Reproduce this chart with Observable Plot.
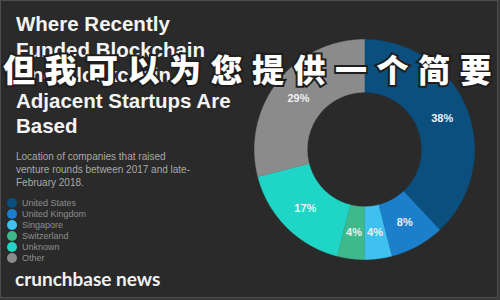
<!DOCTYPE html>
<html>
<head>
<meta charset="utf-8">
<script src="https://cdn.jsdelivr.net/npm/d3@7"></script>
<script src="https://cdn.jsdelivr.net/npm/@observablehq/plot@0.6"></script>
<style>
  html, body { margin: 0; padding: 0; background: #3a3a3a; }
  #wrap { position: relative; width: 496px; height: 296px; background: #2a2a2a; border: 1px solid #4d4d4d; overflow: hidden; font-family: "Liberation Sans", Arial, sans-serif; }
  #chart { position: absolute; left: -1px; top: -1px; width: 500px; height: 300px; }
  #chart svg { max-width: none !important; width: 500px; height: 300px; display: block; }
  #title { position: absolute; left: 15px; top: 10px; color: #f4f4f4; font-weight: 700; font-size: 20.5px; line-height: 25.5px; }
  #sub { position: absolute; left: 15px; top: 149px; color: #a9a9a9; font-size: 10px; line-height: 13px; }
  #legend { position: absolute; left: 6px; top: 196px; }
  .row { height: 11px; display: flex; align-items: center; font-size: 9px; color: #8d8d8d; }
  .sw { width: 10px; height: 10px; border-radius: 50%; margin-right: 5px; }
  #brand { position: absolute; left: 14px; top: 266px; color: #f2f2f2; font-family: Lato, sans-serif; font-weight: 700; font-size: 19px; }
  #overlay { position: absolute; left: 2px; top: 51px; white-space: nowrap; font-family: "Noto Sans CJK SC", sans-serif; font-weight: 900; font-size: 32px; line-height: 32px; letter-spacing: 9.5px; color: #fff; -webkit-text-stroke: 4px #1e1e1e; paint-order: stroke fill; }
</style>
</head>
<body>
<div id="wrap">
  <div id="chart"></div>
  <div id="title"></div>
  <div id="sub"></div>
  <div id="legend"></div>
  <div id="brand"></div>
  <div id="overlay"></div>
</div>
<script>
const countries = ["United States", "United Kingdom", "Singapore", "Switzerland", "Unknown", "Other"];
const shares = [38, 8, 4, 4, 17, 29];
const colors = ["#0b4f7e", "#1b7fcb", "#3ec1ef", "#3db98b", "#1fd6c6", "#8b8b8b"];
const titleLines = ["Where Recently", "Funded Blockchain", "And Blockchain", "Adjacent Startups Are", "Based"];
const subtitleLines = ["Location of companies that raised", "venture rounds between 2017 and late-", "February 2018."];
const brandText = "crunchbase news";
const overlayText = "但我可以为您提供一个简要";

document.getElementById("title").innerHTML = titleLines.join("<br>");
document.getElementById("sub").innerHTML = subtitleLines.join("<br>");
document.getElementById("brand").textContent = brandText;
document.getElementById("overlay").textContent = overlayText;
const leg = document.getElementById("legend");
countries.forEach((c, i) => {
  const r = document.createElement("div"); r.className = "row";
  const s = document.createElement("div"); s.className = "sw"; s.style.background = colors[i];
  const t = document.createElement("span"); t.textContent = c;
  r.appendChild(s); r.appendChild(t); leg.appendChild(r);
});

// donut geometry in unit space (outer radius 1)
const inner = 0.52;
const total = d3.sum(shares);
const polys = [];
const labels = [];
let acc = 0;
shares.forEach((v, i) => {
  const a0 = acc / total * 2 * Math.PI;
  acc += v;
  const a1 = acc / total * 2 * Math.PI;
  const n = Math.max(2, Math.ceil((a1 - a0) / 0.01));
  const pts = [];
  for (let k = 0; k <= n; k++) { const a = a0 + (a1 - a0) * k / n; pts.push([Math.sin(a), Math.cos(a)]); }
  for (let k = n; k >= 0; k--) { const a = a0 + (a1 - a0) * k / n; pts.push([inner * Math.sin(a), inner * Math.cos(a)]); }
  pts.forEach(([x, y]) => polys.push({country: countries[i], x, y}));
  const am = (a0 + a1) / 2, rm = (1 + inner) / 2;
  labels.push({country: countries[i], x: rm * Math.sin(am), y: rm * Math.cos(am), label: v + "%"});
});

const plot = Plot.plot({
  width: 500,
  height: 300,
  margin: 0,
  style: {background: "transparent", overflow: "visible"},
  x: {domain: [-1, 1], range: [254, 474], axis: null},
  y: {domain: [-1, 1], range: [259, 39], axis: null},
  color: {domain: countries, range: colors},
  marks: [
    Plot.line(polys, {x: "x", y: "y", z: "country", fill: "country", stroke: "country", strokeWidth: 0.5}),
    Plot.text(labels, {x: "x", y: "y", text: "label", fill: "#f0f0f0", fontSize: 11, fontWeight: 700, fontFamily: "Liberation Sans, Arial, sans-serif"})
  ]
});
document.getElementById("chart").appendChild(plot);
</script>
</body>
</html>
